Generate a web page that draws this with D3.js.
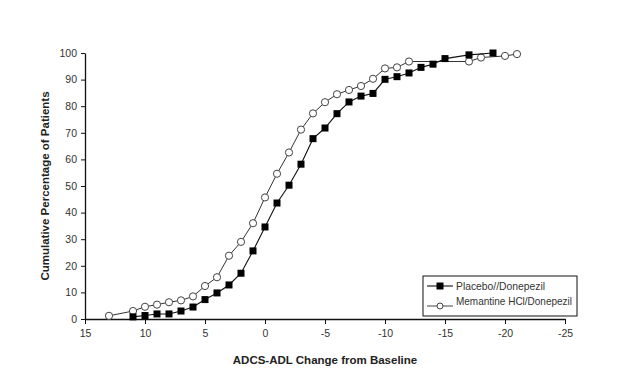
<!DOCTYPE html>
<html>
<head>
<meta charset="utf-8">
<script src="https://cdn.jsdelivr.net/npm/d3@7"></script>
<style>
  body { margin: 0; background: #fff; }
  svg { display: block; font-family: "Liberation Sans", Arial, sans-serif; }
  .tick text { fill: #333; font-size: 10.5px; }
</style>
</head>
<body>
<svg id="chart" width="633" height="372"></svg>
<script>
// ADCS-ADL change (x) vs cumulative % of patients (y)
const placeboX = [11, 10, 9, 8, 7, 6, 5, 4, 3, 2, 1, 0, -1, -2, -3, -4, -5, -6, -7, -8, -9, -10, -11, -12, -13, -14, -15, -17, -19];
const placeboY = [0.8, 1.3, 1.9, 1.9, 3.0, 4.5, 7.3, 9.8, 12.8, 17.2, 25.6, 34.6, 43.6, 50.3, 58.2, 67.8, 71.8, 77.2, 81.6, 83.8, 84.8, 90.1, 91.1, 92.5, 94.6, 95.8, 97.9, 99.3, 100];

const memantineX = [13, 11, 10, 9, 8, 7, 6, 5, 4, 3, 2, 1, 0, -1, -2, -3, -4, -5, -6, -7, -8, -9, -10, -11, -12, -17, -18, -20, -21];
const memantineY = [1.2, 3.0, 4.6, 5.4, 6.3, 7.0, 8.5, 12.4, 15.7, 23.8, 29.0, 36.0, 45.7, 54.6, 62.6, 71.2, 77.3, 81.5, 84.5, 86.1, 87.6, 90.3, 94.2, 94.6, 96.8, 96.8, 98.3, 98.9, 99.6];

const xTicks = [15, 10, 5, 0, -5, -10, -15, -20, -25];
const yTicks = [0, 10, 20, 30, 40, 50, 60, 70, 80, 90, 100];

const seriesNames = ["Placebo//Donepezil", "Memantine HCl/Donepezil"];

const svg = d3.select("#chart");
const mLeft = 85, mRight = 565, mTop = 53, mBottom = 319;

const x = d3.scaleLinear().domain([15, -25]).range([mLeft, mRight]);
const y = d3.scaleLinear().domain([0, 100]).range([mBottom, mTop]);

// axes (plain hyphen for negatives, like the original)
const xAxis = svg.append("g")
    .attr("transform", `translate(0,${mBottom})`)
    .call(d3.axisBottom(x).tickValues(xTicks).tickFormat(d => String(d))
        .tickSize(5).tickPadding(6).tickSizeOuter(0));
const yAxis = svg.append("g")
    .attr("transform", `translate(${mLeft},0)`)
    .call(d3.axisLeft(y).tickValues(yTicks).tickSize(4).tickPadding(4).tickSizeOuter(0));
[xAxis, yAxis].forEach(a => {
    a.select(".domain").attr("stroke", "#111").attr("stroke-width", 1.3);
    a.selectAll(".tick line").attr("stroke", "#111");
});

// titles
svg.append("text")
    .attr("x", (mLeft + mRight) / 2)
    .attr("y", 364)
    .attr("text-anchor", "middle")
    .attr("font-size", 11.5)
    .attr("font-weight", "bold")
    .attr("fill", "#222")
    .text("ADCS-ADL Change from Baseline");

svg.append("text")
    .attr("transform", `translate(49,${(mTop + mBottom) / 2}) rotate(-90)`)
    .attr("text-anchor", "middle")
    .attr("font-size", 11.5)
    .attr("font-weight", "bold")
    .attr("fill", "#222")
    .text("Cumulative Percentage of Patients");

const line = d3.line().x(d => x(d[0])).y(d => y(d[1]));

const placebo = placeboX.map((v, i) => [v, placeboY[i]]);
const memantine = memantineX.map((v, i) => [v, memantineY[i]]);

// memantine series (circles)
svg.append("path")
    .datum(memantine)
    .attr("fill", "none")
    .attr("stroke", "#333")
    .attr("stroke-width", 1)
    .attr("d", line);
svg.append("g").selectAll("circle")
    .data(memantine)
    .join("circle")
    .attr("cx", d => x(d[0]))
    .attr("cy", d => y(d[1]))
    .attr("r", 3.6)
    .attr("fill", "#fff")
    .attr("stroke", "#444")
    .attr("stroke-width", 1);

// placebo series (squares)
svg.append("path")
    .datum(placebo)
    .attr("fill", "none")
    .attr("stroke", "#111")
    .attr("stroke-width", 1.1)
    .attr("d", line);
svg.append("g").selectAll("rect")
    .data(placebo)
    .join("rect")
    .attr("x", d => x(d[0]) - 3.5)
    .attr("y", d => y(d[1]) - 3.5)
    .attr("width", 7)
    .attr("height", 7)
    .attr("fill", "#000");

// legend
const lg = svg.append("g").attr("transform", "translate(423,276)");
lg.append("rect")
    .attr("width", 154).attr("height", 40)
    .attr("fill", "#fff").attr("stroke", "#111").attr("stroke-width", 1);

const row1 = lg.append("g").attr("transform", "translate(0,10)");
row1.append("line").attr("x1", 4).attr("x2", 30).attr("stroke", "#111").attr("stroke-width", 1.1);
row1.append("rect").attr("x", 13.5).attr("y", -3.5).attr("width", 7).attr("height", 7).attr("fill", "#000");
row1.append("text").attr("x", 33).attr("y", 4).attr("font-size", 10.5).attr("fill", "#333")
    .attr("textLength", 89).attr("lengthAdjust", "spacingAndGlyphs").text(seriesNames[0]);

const row2 = lg.append("g").attr("transform", "translate(0,30)");
row2.append("line").attr("x1", 4).attr("x2", 30).attr("stroke", "#444").attr("stroke-width", 1);
row2.append("circle").attr("cx", 17).attr("cy", 0).attr("r", 3).attr("fill", "#fff").attr("stroke", "#444");
row2.append("text").attr("x", 33).attr("y", -1).attr("font-size", 10.5).attr("fill", "#333")
    .attr("textLength", 116).attr("lengthAdjust", "spacingAndGlyphs").text(seriesNames[1]);
</script>
</body>
</html>
